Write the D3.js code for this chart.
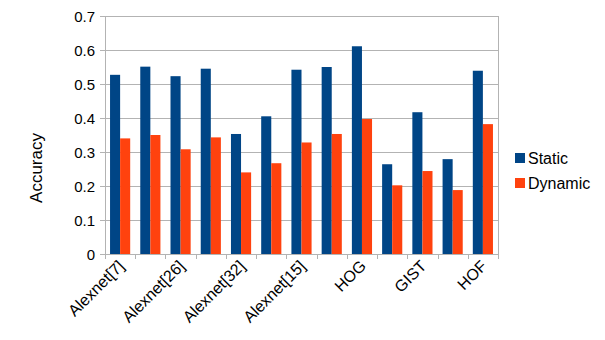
<!DOCTYPE html>
<html><head><meta charset="utf-8">
<script src="https://cdn.jsdelivr.net/npm/d3@7"></script>
<style>body{margin:0;background:#fff}svg{display:block}text{font-family:"Liberation Sans",Arial,sans-serif;fill:#000}</style>
</head><body><svg id="c" width="605" height="340"></svg>
<script>
const categories = ["Alexnet[7]","c2","Alexnet[26]","c4","Alexnet[32]","c6","Alexnet[15]","c8","HOG","c10","GIST","c12","HOF"];
const shownLabels = ["Alexnet[7]","","Alexnet[26]","","Alexnet[32]","","Alexnet[15]","","HOG","","GIST","","HOF"];
const staticVals  = [0.527,0.551,0.523,0.545,0.353,0.405,0.542,0.550,0.611,0.264,0.417,0.279,0.539];
const dynamicVals = [0.340,0.350,0.308,0.343,0.240,0.267,0.328,0.353,0.397,0.202,0.244,0.188,0.382];
const seriesNames = ["Static","Dynamic"];
const colors = ["#004586","#ff420e"];
const yTicks = [0,0.1,0.2,0.3,0.4,0.5,0.6,0.7];

const svg = d3.select("#c");
const L=105,R=498,T=16,B=254;
const x = d3.scaleBand().domain(categories).range([L,R]).paddingInner(0).paddingOuter(0);
const xs = d3.scaleBand().domain(seriesNames).range([0,x.bandwidth()]).paddingInner(0).paddingOuter(0.5);
const y = d3.scaleLinear().domain([0,0.7]).range([B,T]);

// gridlines
svg.append("g").selectAll("line").data(yTicks).join("line")
  .attr("x1",L-5).attr("x2",R).attr("y1",d=>Math.round(y(d))+0.5).attr("y2",d=>Math.round(y(d))+0.5)
  .attr("stroke","#b3b3b3").attr("stroke-width",1);
// plot border left/right
svg.append("line").attr("x1",L+0.5).attr("x2",L+0.5).attr("y1",T).attr("y2",B+5).attr("stroke","#b3b3b3");
svg.append("line").attr("x1",R+0.5).attr("x2",R+0.5).attr("y1",T).attr("y2",B+5).attr("stroke","#b3b3b3");
// x ticks at boundaries
svg.append("g").selectAll("line").data(categories.slice(1)).join("line")
  .attr("x1",d=>Math.round(x(d))+0.5).attr("x2",d=>Math.round(x(d))+0.5).attr("y1",B).attr("y2",B+5).attr("stroke","#b3b3b3");

// bars
const series=[staticVals,dynamicVals];
series.forEach((vals,si)=>{
  svg.append("g").selectAll("rect").data(vals).join("rect")
    .attr("x",(d,i)=>x(categories[i])+xs(seriesNames[si]))
    .attr("width",xs.bandwidth())
    .attr("y",d=>y(d)).attr("height",d=>B-y(d))
    .attr("fill",colors[si]);
});

// y tick labels
svg.append("g").selectAll("text").data(yTicks).join("text")
  .attr("x",95).attr("y",d=>y(d)+5.5).attr("text-anchor","end").attr("font-size",15)
  .text(d=>d3.format(".1~f")(d));

// x labels
svg.append("g").selectAll("text").data(categories).join("text")
  .attr("transform",(d,i)=>`translate(${x(d)+x.bandwidth()/2+5},${B+13}) rotate(-45)`)
  .attr("text-anchor","end").attr("font-size",16)
  .text((d,i)=>shownLabels[i]);

// axis title
svg.append("text").attr("transform",`translate(42,168) rotate(-90)`)
  .attr("text-anchor","middle").attr("font-size",17).text("Accuracy");

// legend
seriesNames.forEach((n,i)=>{
  const ly=153+i*25;
  svg.append("rect").attr("x",515).attr("y",ly).attr("width",10).attr("height",10).attr("fill",colors[i]);
  svg.append("text").attr("x",528).attr("y",ly+11).attr("font-size",16).text(n);
});
</script></body></html>
